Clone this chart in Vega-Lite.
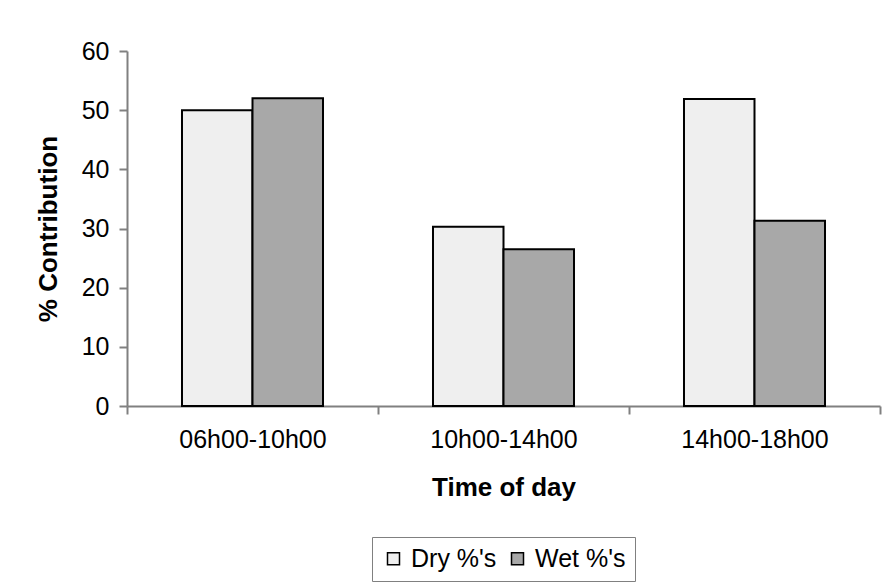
{
  "$schema": "https://vega.github.io/schema/vega-lite/v6.json",
  "autosize": "none",
  "width": 753,
  "height": 355,
  "padding": {"left": 127, "top": 51, "right": 9, "bottom": 180},
  "background": "white",
  "data": {
    "values": [
      {"time": "06h00-10h00", "series": "Dry %'s", "value": 50},
      {"time": "06h00-10h00", "series": "Wet %'s", "value": 52},
      {"time": "10h00-14h00", "series": "Dry %'s", "value": 30.3},
      {"time": "10h00-14h00", "series": "Wet %'s", "value": 26.5},
      {"time": "14h00-18h00", "series": "Dry %'s", "value": 51.9},
      {"time": "14h00-18h00", "series": "Wet %'s", "value": 31.3}
    ]
  },
  "mark": {"type": "bar", "stroke": "black", "strokeWidth": 2, "opacity": 1},
  "encoding": {
    "x": {
      "field": "time",
      "type": "nominal",
      "scale": {"paddingInner": 0, "paddingOuter": 0},
      "axis": {
        "title": "Time of day",
        "labelAngle": 0,
        "labelFont": "Liberation Sans",
        "labelFontSize": 25,
        "labelColor": "black",
        "labelPadding": 13,
        "tickBand": "extent",
        "tickSize": 8,
        "tickColor": "#808080",
        "domainColor": "#808080",
        "domainWidth": 2,
        "tickWidth": 2,
        "titleFont": "Liberation Sans",
        "titleFontSize": 26,
        "titleFontWeight": "bold",
        "titleColor": "black",
        "titlePadding": 22
      }
    },
    "xOffset": {
      "field": "series",
      "type": "nominal",
      "scale": {"paddingInner": 0, "paddingOuter": 0.78}
    },
    "y": {
      "field": "value",
      "type": "quantitative",
      "scale": {"domain": [0, 60], "nice": false},
      "axis": {
        "title": "% Contribution",
        "values": [0, 10, 20, 30, 40, 50, 60],
        "grid": false,
        "labelFont": "Liberation Sans",
        "labelFontSize": 25,
        "labelColor": "black",
        "labelPadding": 10,
        "tickSize": 8,
        "tickColor": "#808080",
        "domainColor": "#808080",
        "domainWidth": 2,
        "tickWidth": 2,
        "titleFont": "Liberation Sans",
        "titleFontSize": 26,
        "titleFontWeight": "bold",
        "titleColor": "black",
        "titlePadding": 20
      }
    },
    "fill": {
      "field": "series",
      "type": "nominal",
      "scale": {"domain": ["Dry %'s", "Wet %'s"], "range": ["#efefef", "#a8a8a8"]},
      "legend": {
        "title": null,
        "orient": "none",
        "direction": "horizontal",
        "legendX": 245,
        "legendY": 486,
        "strokeColor": "#808080",
        "padding": 9,
        "symbolType": "square",
        "symbolSize": 144,
        "symbolStrokeColor": "black",
        "symbolStrokeWidth": 1.5,
        "symbolOpacity": 1,
        "labelFont": "Liberation Sans",
        "labelFontSize": 25,
        "labelColor": "black",
        "columnPadding": 8,
        "labelOffset": 5
      }
    }
  },
  "config": {"view": {"stroke": null}}
}
